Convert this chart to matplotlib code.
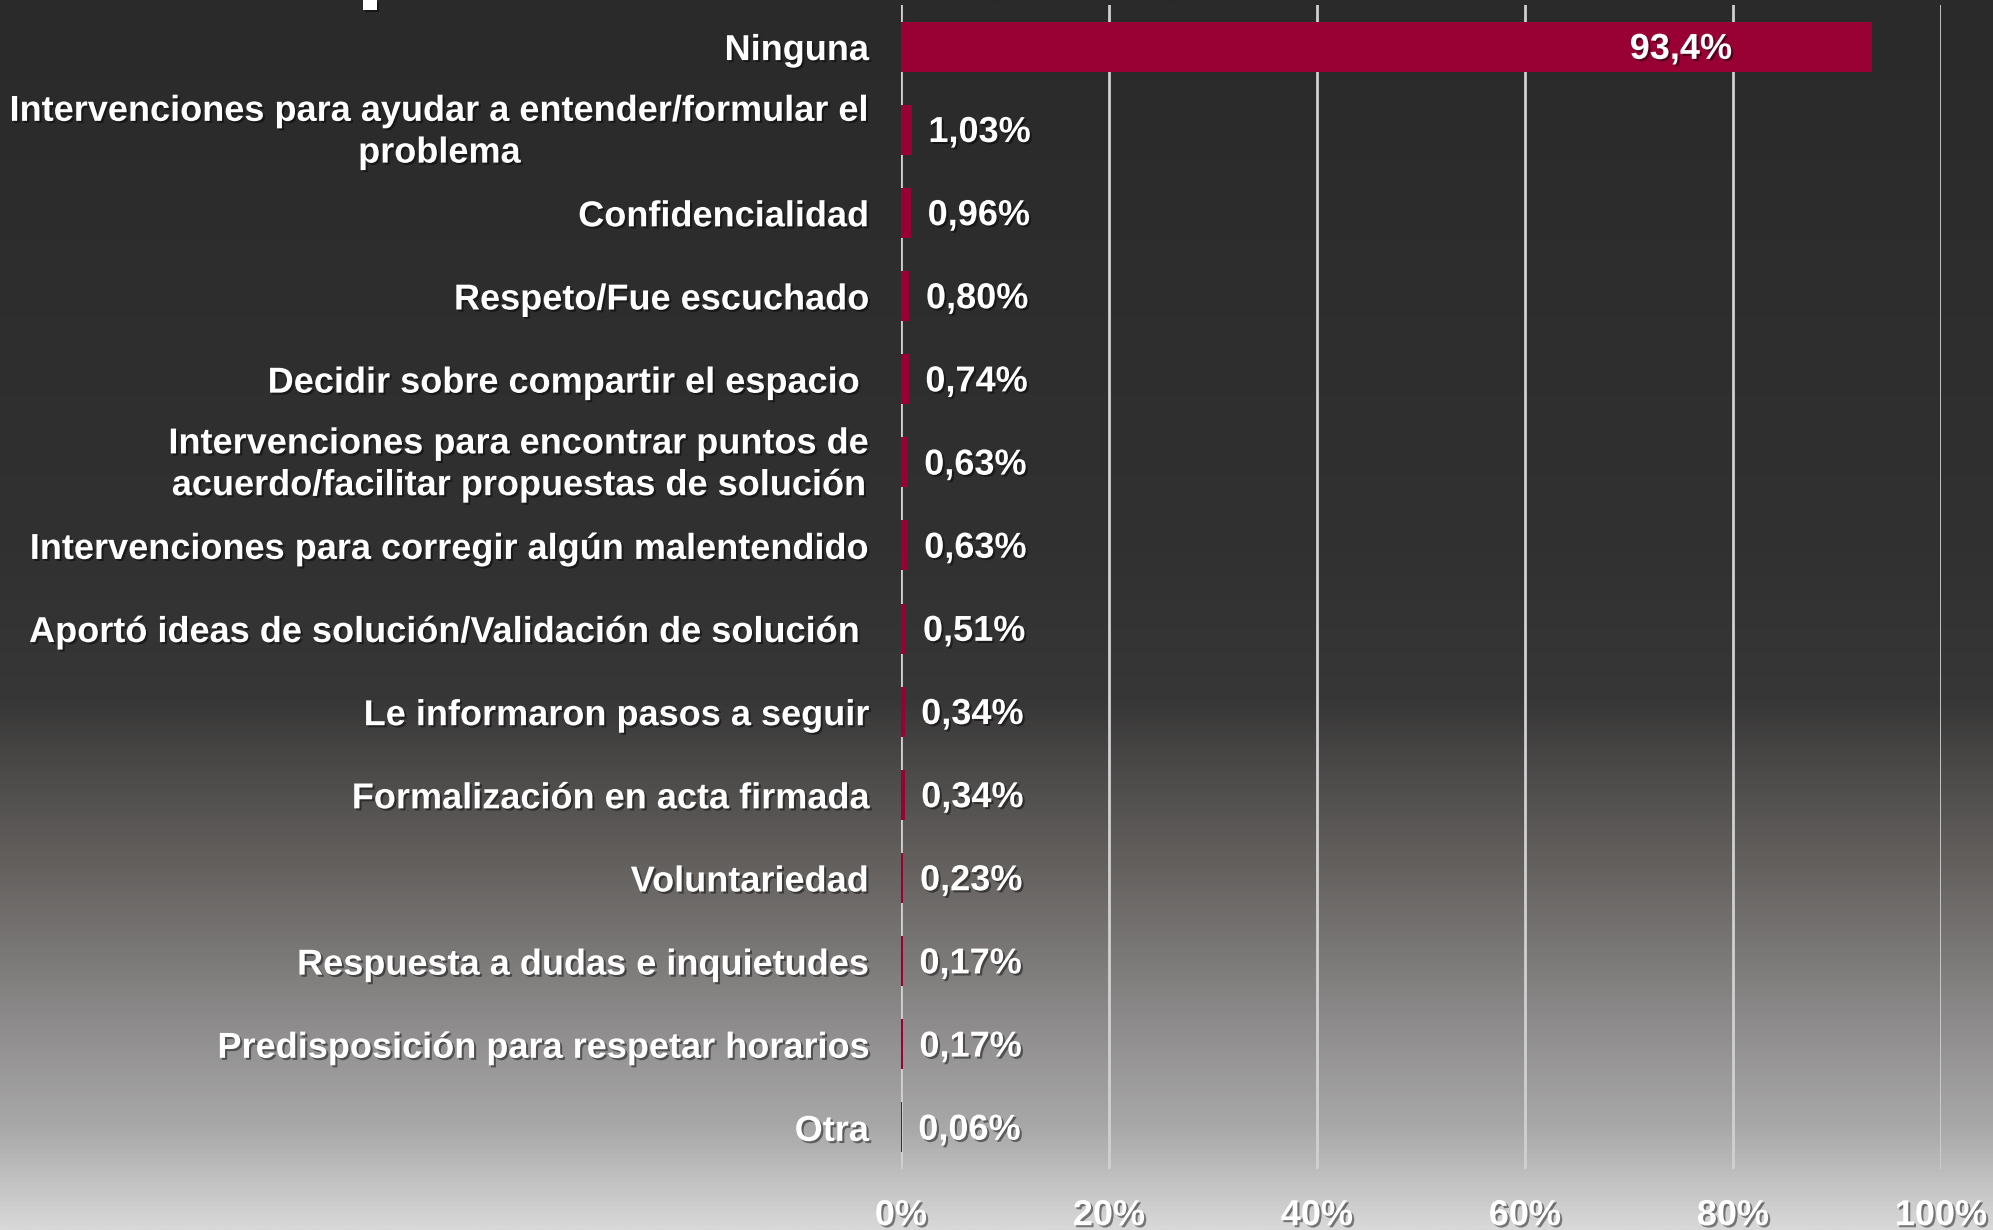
import numpy as np
import matplotlib
matplotlib.use("Agg")
import matplotlib.pyplot as plt
import matplotlib.patheffects as pe
import matplotlib.transforms as mtransforms
from matplotlib.colors import LinearSegmentedColormap
from matplotlib.patches import Rectangle

categories = [
    "Ninguna",
    "Intervenciones para ayudar a entender/formular el\nproblema",
    "Confidencialidad",
    "Respeto/Fue escuchado",
    "Decidir sobre compartir el espacio ",
    "Intervenciones para encontrar puntos de\nacuerdo/facilitar propuestas de solución",
    "Intervenciones para corregir algún malentendido",
    "Aportó ideas de solución/Validación de solución ",
    "Le informaron pasos a seguir",
    "Formalización en acta firmada",
    "Voluntariedad",
    "Respuesta a dudas e inquietudes",
    "Predisposición para respetar horarios",
    "Otra",
]
values = [93.4, 1.03, 0.96, 0.80, 0.74, 0.63, 0.63, 0.51, 0.34, 0.34, 0.23, 0.17, 0.17, 0.06]
value_labels = ["93,4%", "1,03%", "0,96%", "0,80%", "0,74%", "0,63%", "0,63%", "0,51%",
                "0,34%", "0,34%", "0,23%", "0,17%", "0,17%", "0,06%"]
xticks = [0, 20, 40, 60, 80, 100]
xtick_labels = ["0%", "20%", "40%", "60%", "80%", "100%"]

plt.rcParams['font.family'] = ['Liberation Sans', 'DejaVu Sans']
plt.rcParams['font.weight'] = 'bold'

W, H, DPI = 1993, 1230, 100
FS = 26
fig = plt.figure(figsize=(W / DPI, H / DPI), dpi=DPI)

# background gradient
bg = fig.add_axes([0, 0, 1, 1], zorder=-10)
bg.axis('off')
stops = [
    (0.00, (0x2a, 0x2a, 0x2a)),
    (0.45, (0x31, 0x31, 0x31)),
    (0.57, (0x38, 0x37, 0x37)),
    (0.64, (0x50, 0x4e, 0x4d)),
    (0.70, (0x62, 0x5f, 0x5d)),
    (0.83, (0x8c, 0x8a, 0x8a)),
    (0.92, (0xaa, 0xa9, 0xa9)),
    (1.00, (0xd8, 0xd8, 0xd8)),
]
cmap = LinearSegmentedColormap.from_list(
    "bg", [(p, tuple(c / 255 for c in col)) for p, col in stops])
grad = np.linspace(0, 1, 512).reshape(-1, 1)
bg.imshow(grad, aspect='auto', cmap=cmap, extent=[0, 1, 0, 1], origin='upper')
bg.set_xlim(0, 1)
bg.set_ylim(0, 1)

shadow = [pe.withSimplePatchShadow(offset=(1.5, -1.5), shadow_rgbFace='black', alpha=0.45)]

# small fragment of a cut-off title at top
frag = Rectangle((363 / W, 1 - 10 / H), 14 / W, 10 / H, transform=fig.transFigure,
                 facecolor='white', edgecolor='none', zorder=5)
frag.set_path_effects(shadow)
fig.add_artist(frag)

ax = fig.add_axes([901 / W, 1 - 1169 / H, 1040 / W, 1164 / H])
ax.patch.set_alpha(0)
y = np.arange(len(categories))
ax.barh(y, values, height=0.6, color='#990033', zorder=3)
ax.set_xlim(0, 100)
ax.set_ylim(len(categories) - 0.5, -0.5)
ax.set_xticks(xticks)
ax.set_xticklabels(xtick_labels)
ax.set_yticks(y)
ax.set_yticklabels(categories, multialignment='center', linespacing=1.25)
ax.tick_params(axis='both', length=0, labelsize=FS, labelcolor='white')
ax.tick_params(axis='y', pad=23)
ax.tick_params(axis='x', pad=21)
for lab in ax.get_xticklabels() + ax.get_yticklabels():
    lab.set_fontweight('bold')
    lab.set_path_effects(shadow)
for lab in ax.get_yticklabels():
    if "\n" in lab.get_text():
        lab.set_transform(lab.get_transform() +
                          mtransforms.ScaledTranslation(0, 3.5 / 72, fig.dpi_scale_trans))
for s in ax.spines.values():
    s.set_visible(False)
ax.grid(axis='x', color='#d0d0d0', linewidth=2, zorder=1)
ax.grid(axis='y', visible=False)

for i, (v, lab) in enumerate(zip(values, value_labels)):
    if v > 50:
        t = ax.annotate(lab, xy=(v, i), xytext=(-101, -2), textcoords='offset points',
                        ha='right', va='center', color='white', fontsize=FS,
                        fontweight='bold', zorder=5)
    else:
        t = ax.annotate(lab, xy=(v, i), xytext=(12, -2), textcoords='offset points',
                        ha='left', va='center', color='white', fontsize=FS,
                        fontweight='bold', zorder=5)
    t.set_path_effects(shadow)

fig.savefig("out.png", dpi=DPI)
